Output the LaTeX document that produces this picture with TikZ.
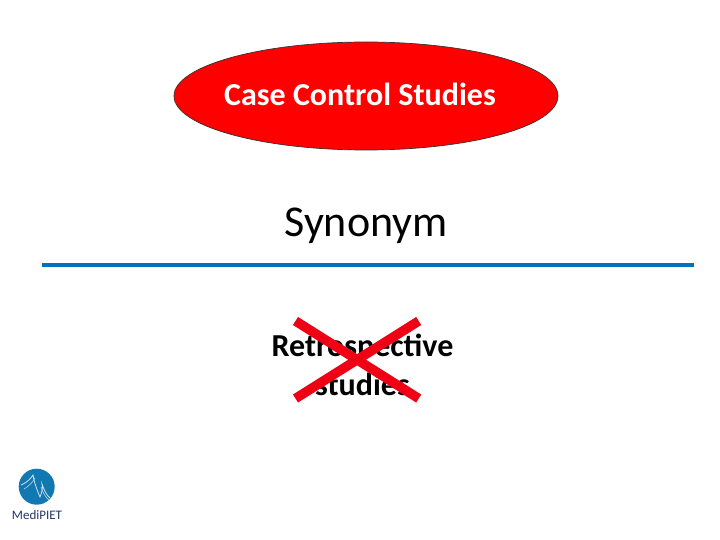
\documentclass[tikz,border=0pt]{standalone}
\usepackage{fontspec}
\setmainfont{Carlito}
\usetikzlibrary{shapes.geometric}
\definecolor{rulebl}{RGB}{0,112,192}
\definecolor{logobl}{RGB}{18,120,178}
\definecolor{logotx}{RGB}{35,55,105}
\definecolor{crossr}{RGB}{240,0,20}
\tikzset{
  x=1pt,y=-1pt,
  oval/.style={ellipse,draw=black!80,line width=0.7pt,fill=red,minimum width=384pt,minimum height=108pt,inner sep=0pt},
  bigtxt/.style={inner sep=0pt,align=center},
  crossbar/.style={draw=crossr,line width=9.5pt},
}
\begin{document}
\begin{tikzpicture}
\useasboundingbox (0,0) rectangle (720,540);
\fill[white] (0,0) rectangle (720,540);
\node[oval] (o) at (366,96) {};
\node[bigtxt,text=white,font=\fontsize{32}{38}\selectfont\bfseries] (t) at (360,94) {Case Control Studies};
\node[bigtxt,font=\fontsize{44}{52}\selectfont] (s) at (366,226) {Synonym};
\coordinate (la) at (42,264.5);
\coordinate (lb) at (694,264.5);
\draw[rulebl,line width=4pt] (la) -- (lb);
\node[bigtxt,font=\fontsize{32}{39}\selectfont\bfseries] (r) at (362.5,365) {Retrospective\\studies};
\coordinate (c1) at (295.5,321);
\coordinate (c2) at (418.7,398.5);
\coordinate (c3) at (418.7,321);
\coordinate (c4) at (295.5,398.5);
\draw[crossbar] (c1) -- (c2);
\draw[crossbar] (c3) -- (c4);
\fill[logobl] (36.7,486.7) circle (18);
\draw[white!80!logobl,line width=0.8pt] (21,485) .. controls (28,482) and (31,478) .. (33,475) .. controls (34,482) and (37,490) .. (40,497) .. controls (42,492) and (43,488) .. (42,484) .. controls (44,490) and (47,496) .. (50,498);
\draw[white!70!logobl,line width=0.6pt] (24,489) .. controls (29,486) and (33,482) .. (35,478);
\draw[white!70!logobl,line width=0.6pt] (41,487) .. controls (43,493) and (46,498) .. (49,500);
\node[bigtxt,text=logotx,font=\fontsize{13}{15}\selectfont] (m) at (37,515) {MediPIET};
\end{tikzpicture}
\end{document}
